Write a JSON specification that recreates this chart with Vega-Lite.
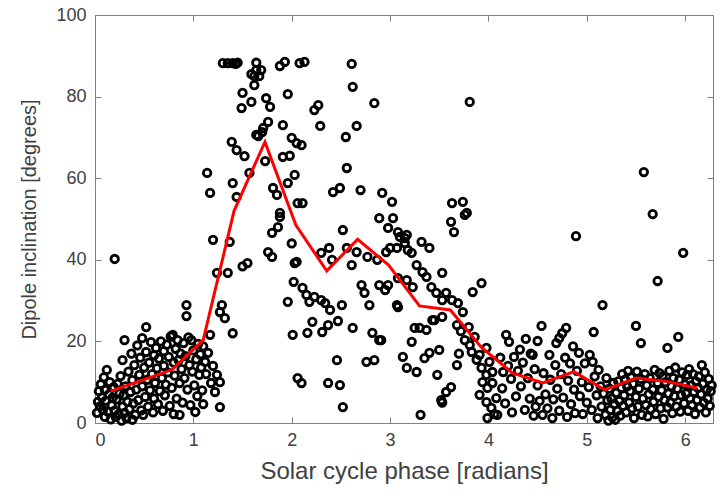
{
"$schema":"https://vega.github.io/schema/vega-lite/v6.json",
"width":618,"height":408,
"autosize":{"type":"none"},
"padding":{"left":95,"top":15,"right":9,"bottom":72},
"background":"white",
"config":{
 "view":{"stroke":"#808080","strokeWidth":1},
 "axis":{"domainColor":"#808080","tickColor":"#808080","tickSize":-6,"tickWidth":1,"labelColor":"#404040","titleColor":"#404040","labelFont":"Liberation Sans","titleFont":"Liberation Sans","labelFontSize":18,"titleFontSize":20,"titleFontWeight":"normal","grid":false}
},
"datasets":{
"pts":[
{"x":0.02,"y":2.5},{"x":0.03,"y":5.2},{"x":0.04,"y":7.8},{"x":0.05,"y":4.1},{"x":0.06,"y":9.5},{"x":0.07,"y":6.3},{"x":0.08,"y":3.2},{"x":0.09,"y":11.2},{"x":0.10,"y":1.5},{"x":0.10,"y":8.1},
{"x":0.11,"y":5.5},{"x":0.12,"y":13.0},{"x":0.13,"y":2.8},{"x":0.14,"y":7.0},{"x":0.15,"y":10.0},{"x":0.16,"y":0.9},{"x":0.17,"y":4.3},{"x":0.18,"y":6.2},{"x":0.19,"y":8.8},{"x":0.20,"y":3.0},{"x":0.20,"y":40.2},
{"x":0.21,"y":1.5},{"x":0.22,"y":5.8},{"x":0.23,"y":9.6},{"x":0.24,"y":2.2},{"x":0.25,"y":7.2},{"x":0.26,"y":11.5},{"x":0.27,"y":0.6},{"x":0.28,"y":4.0},{"x":0.28,"y":15.4},{"x":0.29,"y":6.8},{"x":0.30,"y":20.3},{"x":0.30,"y":2.5},
{"x":0.31,"y":9.0},{"x":0.32,"y":1.2},{"x":0.33,"y":5.2},{"x":0.34,"y":12.6},{"x":0.35,"y":3.4},{"x":0.36,"y":7.6},{"x":0.37,"y":17.0},{"x":0.38,"y":0.8},{"x":0.38,"y":10.5},{"x":0.39,"y":4.8},{"x":0.40,"y":14.2},
{"x":0.41,"y":2.0},{"x":0.42,"y":8.2},{"x":0.43,"y":19.0},{"x":0.44,"y":5.6},{"x":0.45,"y":11.8},{"x":0.46,"y":16.0},{"x":0.47,"y":3.1},{"x":0.48,"y":20.8},{"x":0.48,"y":9.0},{"x":0.49,"y":2.0},{"x":0.50,"y":13.6},{"x":0.52,"y":23.5},
{"x":0.51,"y":6.4},{"x":0.52,"y":17.4},{"x":0.53,"y":10.6},{"x":0.54,"y":4.0},{"x":0.55,"y":14.8},{"x":0.56,"y":8.0},{"x":0.57,"y":19.8},{"x":0.58,"y":12.0},{"x":0.59,"y":2.6},{"x":0.60,"y":16.6},{"x":0.60,"y":6.0},
{"x":0.61,"y":9.8},{"x":0.62,"y":18.4},{"x":0.63,"y":13.4},{"x":0.64,"y":4.6},{"x":0.65,"y":15.8},{"x":0.66,"y":7.8},{"x":0.67,"y":20.0},{"x":0.68,"y":11.0},{"x":0.69,"y":3.0},{"x":0.70,"y":17.6},{"x":0.70,"y":14.0},
{"x":0.71,"y":6.8},{"x":0.72,"y":9.4},{"x":0.73,"y":19.2},{"x":0.74,"y":12.4},{"x":0.75,"y":16.2},{"x":0.76,"y":4.2},{"x":0.77,"y":21.2},{"x":0.78,"y":8.6},{"x":0.79,"y":21.6},{"x":0.80,"y":14.8},{"x":0.80,"y":2.2},
{"x":0.81,"y":11.6},{"x":0.82,"y":18.2},{"x":0.83,"y":6.0},{"x":0.84,"y":20.3},{"x":0.85,"y":15.4},{"x":0.86,"y":2.0},{"x":0.86,"y":9.8},{"x":0.87,"y":17.0},{"x":0.88,"y":13.2},{"x":0.89,"y":5.0},{"x":0.90,"y":19.6},
{"x":0.91,"y":11.0},{"x":0.92,"y":16.4},{"x":0.93,"y":28.9},{"x":0.93,"y":26.2},{"x":0.94,"y":8.2},{"x":0.95,"y":21.0},{"x":0.96,"y":14.2},{"x":0.97,"y":4.4},{"x":0.98,"y":20.3},{"x":0.99,"y":12.6},{"x":1.00,"y":17.8},
{"x":1.01,"y":9.2},{"x":1.02,"y":2.7},{"x":1.03,"y":15.6},{"x":1.04,"y":6.6},{"x":1.05,"y":19.4},{"x":1.06,"y":11.8},{"x":1.07,"y":16.8},{"x":1.08,"y":13.6},{"x":1.09,"y":8.0},{"x":1.10,"y":18.8},{"x":1.10,"y":4.6},
{"x":1.12,"y":15.0},{"x":1.13,"y":12.0},{"x":1.15,"y":17.2},{"x":1.17,"y":21.6},{"x":1.18,"y":9.8},{"x":1.20,"y":14.0},{"x":1.22,"y":7.6},{"x":1.24,"y":11.8},{"x":1.27,"y":10.0},{"x":1.27,"y":3.9},
{"x":1.30,"y":88.2},{"x":1.35,"y":88.2},{"x":1.40,"y":88.2},{"x":1.45,"y":88.3},{"x":1.43,"y":88.0},{"x":1.64,"y":88.3},{"x":1.88,"y":87.5},{"x":1.93,"y":88.5},{"x":2.08,"y":88.2},
{"x":1.59,"y":85.5},{"x":1.64,"y":86.5},{"x":1.69,"y":86.5},{"x":1.62,"y":85.0},{"x":1.67,"y":85.0},
{"x":1.62,"y":82.8},{"x":1.50,"y":80.9},{"x":1.59,"y":78.7},{"x":1.49,"y":77.2},{"x":1.74,"y":79.6},{"x":1.78,"y":77.5},{"x":1.96,"y":80.6},{"x":1.76,"y":73.8},{"x":1.71,"y":72.3},{"x":1.66,"y":70.3},{"x":1.91,"y":73.0},{"x":2.00,"y":69.9},{"x":2.05,"y":68.6},{"x":1.39,"y":68.9},{"x":1.44,"y":66.9},{"x":1.52,"y":65.4},{"x":1.73,"y":64.2},{"x":1.91,"y":65.2},{"x":1.14,"y":61.3},{"x":1.57,"y":61.3},{"x":2.03,"y":60.8},{"x":1.40,"y":58.8},{"x":1.17,"y":56.4},{"x":1.44,"y":55.4},{"x":1.81,"y":57.6},{"x":1.85,"y":55.9},{"x":1.96,"y":58.8},{"x":1.88,"y":51.5},{"x":2.06,"y":53.9},{"x":1.64,"y":70.6},{"x":1.70,"y":71.3},{"x":1.86,"y":48.0},{"x":1.80,"y":46.6},{"x":1.20,"y":44.9},{"x":1.37,"y":44.4},{"x":1.76,"y":41.9},{"x":1.80,"y":40.7},{"x":1.24,"y":36.8},{"x":1.35,"y":36.8},{"x":1.50,"y":38.4},{"x":1.55,"y":39.2},{"x":2.00,"y":44.0},{"x":2.03,"y":39.2},{"x":2.02,"y":34.6},{"x":1.96,"y":29.7},{"x":1.29,"y":28.9},{"x":1.27,"y":27.2},{"x":1.32,"y":25.7},{"x":1.40,"y":22.0},{"x":2.01,"y":21.6},{"x":2.06,"y":11.0},{"x":1.88,"y":50.5},{"x":1.98,"y":65.5},{"x":2.10,"y":68.1},{"x":2.11,"y":53.9},
{"x":2.13,"y":88.5},{"x":2.61,"y":88.0},{"x":2.62,"y":82.4},{"x":2.84,"y":78.4},{"x":3.81,"y":78.7},{"x":2.23,"y":76.7},{"x":2.27,"y":77.9},{"x":2.29,"y":72.8},{"x":2.66,"y":72.8},{"x":2.55,"y":70.1},{"x":2.56,"y":62.5},{"x":2.42,"y":56.6},{"x":2.49,"y":57.6},{"x":2.70,"y":57.1},{"x":2.92,"y":56.4},{"x":3.02,"y":54.2},{"x":3.63,"y":53.9},{"x":3.74,"y":54.2},{"x":3.78,"y":51.5},{"x":2.89,"y":50.2},{"x":3.03,"y":50.2},{"x":3.62,"y":49.3},{"x":2.98,"y":47.8},{"x":2.52,"y":47.3},
{"x":2.30,"y":41.7},{"x":2.38,"y":42.9},{"x":2.41,"y":40.0},{"x":2.56,"y":42.9},{"x":2.66,"y":41.9},{"x":2.61,"y":38.7},{"x":2.77,"y":40.7},{"x":2.87,"y":40.0},{"x":2.96,"y":41.9},{"x":3.00,"y":42.9},{"x":3.07,"y":42.9},{"x":3.10,"y":45.6},{"x":3.17,"y":46.1},{"x":3.15,"y":44.1},{"x":3.18,"y":42.4},{"x":3.22,"y":41.7},{"x":3.32,"y":44.4},{"x":3.40,"y":42.9},{"x":3.65,"y":46.8},{"x":3.76,"y":51.0},{"x":2.05,"y":39.5},{"x":2.71,"y":33.8},{"x":2.74,"y":31.9},{"x":2.79,"y":28.9},{"x":2.89,"y":33.8},{"x":2.98,"y":33.8},{"x":2.95,"y":32.6},{"x":3.08,"y":35.5},{"x":3.17,"y":35.0},{"x":3.23,"y":33.3},{"x":3.27,"y":38.7},{"x":3.33,"y":37.0},{"x":3.37,"y":35.8},{"x":3.53,"y":36.8},{"x":3.42,"y":33.3},{"x":3.47,"y":31.9},{"x":3.57,"y":31.9},{"x":3.53,"y":30.1},{"x":3.63,"y":30.1},{"x":3.69,"y":29.4},{"x":3.74,"y":27.2},{"x":3.84,"y":32.1},{"x":3.93,"y":34.3},
{"x":2.11,"y":33.1},{"x":2.15,"y":31.4},{"x":2.18,"y":29.7},{"x":2.23,"y":30.9},{"x":2.30,"y":30.1},{"x":2.34,"y":29.4},{"x":2.39,"y":27.7},{"x":2.51,"y":28.9},{"x":3.07,"y":28.9},{"x":2.47,"y":25.0},{"x":2.37,"y":24.0},{"x":2.31,"y":22.3},{"x":2.21,"y":24.8},{"x":2.16,"y":22.1},{"x":2.62,"y":23.3},{"x":2.82,"y":22.1},{"x":2.89,"y":20.3},{"x":3.25,"y":23.3},{"x":3.30,"y":23.3},{"x":3.37,"y":22.8},{"x":3.43,"y":25.2},{"x":3.22,"y":19.9},{"x":2.46,"y":15.4},{"x":2.76,"y":15.0},{"x":2.84,"y":15.4},{"x":3.13,"y":16.2},{"x":3.17,"y":13.5},{"x":3.27,"y":12.5},{"x":3.35,"y":15.9},{"x":3.40,"y":17.2},{"x":3.50,"y":17.9},{"x":3.68,"y":14.2},{"x":3.48,"y":11.8},{"x":2.10,"y":9.8},{"x":2.37,"y":9.8},{"x":2.49,"y":9.3},{"x":3.62,"y":8.8},{"x":3.57,"y":7.6},{"x":3.52,"y":5.6},{"x":2.52,"y":3.9},{"x":3.31,"y":2.0},
{"x":3.76,"y":20.3},{"x":3.81,"y":19.1},{"x":3.86,"y":21.1},{"x":3.83,"y":17.4},{"x":3.91,"y":16.7},{"x":3.98,"y":18.4},{"x":4.01,"y":15.0},{"x":3.93,"y":13.5},{"x":3.98,"y":11.8},{"x":4.04,"y":12.5},{"x":3.94,"y":10.0},{"x":3.99,"y":8.6},{"x":4.04,"y":9.8},{"x":3.91,"y":6.9},{"x":3.98,"y":5.1},{"x":4.03,"y":3.7},{"x":4.08,"y":6.1},{"x":4.09,"y":2.0},{"x":3.08,"y":28.4},{"x":3.45,"y":25.2},{"x":3.53,"y":26.0},{"x":3.68,"y":24.0},{"x":2.91,"y":20.3},{"x":3.08,"y":46.8},{"x":3.15,"y":45.3},{"x":3.53,"y":5.0},{"x":3.99,"y":1.2},{"x":4.06,"y":2.2},{"x":3.72,"y":22.5},{"x":3.80,"y":23.5},{"x":3.88,"y":15.5},{"x":3.70,"y":17.0},
{"x":4.12,"y":16.0},{"x":4.15,"y":12.5},{"x":4.18,"y":21.6},{"x":4.21,"y":19.9},{"x":4.14,"y":8.5},{"x":4.17,"y":4.8},{"x":4.20,"y":14.0},{"x":4.23,"y":10.8},{"x":4.26,"y":16.2},{"x":4.24,"y":2.6},{"x":4.28,"y":6.5},{"x":4.30,"y":12.8},{"x":4.32,"y":18.0},{"x":4.33,"y":9.0},{"x":4.35,"y":14.8},{"x":4.37,"y":3.2},{"x":4.38,"y":20.6},{"x":4.40,"y":11.0},{"x":4.42,"y":6.0},{"x":4.43,"y":17.0},{"x":4.45,"y":16.7},{"x":4.46,"y":1.8},{"x":4.47,"y":13.2},{"x":4.48,"y":4.0},{"x":4.50,"y":20.1},{"x":4.50,"y":9.2},
{"x":4.52,"y":5.4},{"x":4.54,"y":23.8},{"x":4.55,"y":2.0},{"x":4.56,"y":12.2},{"x":4.58,"y":7.0},{"x":4.60,"y":3.6},{"x":4.62,"y":16.7},{"x":4.63,"y":10.6},{"x":4.65,"y":1.2},{"x":4.66,"y":5.8},{"x":4.68,"y":14.2},{"x":4.69,"y":19.6},{"x":4.70,"y":8.4},{"x":4.72,"y":20.8},{"x":4.72,"y":3.0},{"x":4.74,"y":12.0},{"x":4.75,"y":22.0},{"x":4.76,"y":6.2},{"x":4.78,"y":16.0},{"x":4.79,"y":23.3},{"x":4.80,"y":1.5},{"x":4.81,"y":10.4},{"x":4.83,"y":14.6},{"x":4.84,"y":4.6},{"x":4.86,"y":18.8},{"x":4.87,"y":8.2},{"x":4.88,"y":2.4},{"x":4.89,"y":45.8},{"x":4.90,"y":12.8},
{"x":4.92,"y":17.2},{"x":4.93,"y":6.6},{"x":4.95,"y":10.0},{"x":4.96,"y":2.2},{"x":4.98,"y":14.6},{"x":5.00,"y":5.0},{"x":5.02,"y":8.8},{"x":5.03,"y":16.7},{"x":5.05,"y":3.2},{"x":5.06,"y":15.0},{"x":5.07,"y":22.3},{"x":5.08,"y":11.4},{"x":5.10,"y":6.8},{"x":5.11,"y":1.2},{"x":5.12,"y":13.0},{"x":5.14,"y":9.0},{"x":5.15,"y":4.0},{"x":5.16,"y":28.9},{"x":5.17,"y":7.2},{"x":5.19,"y":2.0},{"x":5.20,"y":11.0},{"x":5.21,"y":5.6},{"x":5.22,"y":0.6},{"x":5.23,"y":8.4},{"x":5.24,"y":3.2},{"x":5.25,"y":6.0},{"x":5.26,"y":1.4},{"x":5.27,"y":9.8},{"x":5.28,"y":4.6},{"x":5.29,"y":0.8},
{"x":5.30,"y":7.4},{"x":5.31,"y":3.0},{"x":5.32,"y":10.2},{"x":5.33,"y":5.4},{"x":5.34,"y":1.8},{"x":5.35,"y":8.6},{"x":5.36,"y":12.0},{"x":5.37,"y":4.2},{"x":5.38,"y":6.8},{"x":5.39,"y":10.6},{"x":5.40,"y":2.6},{"x":5.41,"y":9.0},{"x":5.42,"y":12.8},{"x":5.43,"y":5.0},{"x":5.44,"y":7.8},{"x":5.45,"y":11.2},{"x":5.46,"y":3.6},{"x":5.47,"y":9.6},{"x":5.48,"y":1.2},{"x":5.50,"y":23.8},{"x":5.50,"y":6.4},{"x":5.51,"y":12.6},{"x":5.52,"y":4.0},{"x":5.53,"y":8.4},{"x":5.55,"y":19.6},{"x":5.55,"y":10.8},{"x":5.56,"y":2.0},{"x":5.57,"y":6.0},{"x":5.58,"y":61.5},{"x":5.59,"y":12.0},{"x":5.60,"y":4.4},{"x":5.61,"y":9.2},{"x":5.62,"y":1.6},{"x":5.63,"y":7.0},{"x":5.64,"y":11.0},{"x":5.65,"y":3.4},{"x":5.67,"y":51.2},{"x":5.67,"y":8.2},{"x":5.68,"y":5.2},{"x":5.69,"y":13.0},
{"x":5.70,"y":2.2},{"x":5.72,"y":34.8},{"x":5.72,"y":9.8},{"x":5.73,"y":6.4},{"x":5.74,"y":12.2},{"x":5.75,"y":3.6},{"x":5.76,"y":8.0},{"x":5.77,"y":11.4},{"x":5.78,"y":1.0},{"x":5.79,"y":5.6},{"x":5.80,"y":10.0},{"x":5.82,"y":18.4},{"x":5.82,"y":3.8},{"x":5.83,"y":7.2},{"x":5.84,"y":12.8},{"x":5.85,"y":5.0},{"x":5.86,"y":9.0},{"x":5.87,"y":2.4},{"x":5.88,"y":11.0},{"x":5.89,"y":6.6},{"x":5.90,"y":13.6},{"x":5.91,"y":4.0},{"x":5.92,"y":8.4},{"x":5.93,"y":21.1},{"x":5.94,"y":10.6},{"x":5.95,"y":2.8},{"x":5.96,"y":6.8},{"x":5.97,"y":12.4},{"x":5.98,"y":41.7},{"x":5.99,"y":4.8},{"x":6.00,"y":9.4},{"x":6.01,"y":7.2},{"x":6.02,"y":11.8},{"x":6.03,"y":3.0},{"x":6.04,"y":13.2},{"x":6.05,"y":6.0},{"x":6.06,"y":9.2},{"x":6.07,"y":4.4},{"x":6.08,"y":12.0},{"x":6.09,"y":7.6},{"x":6.10,"y":2.2},{"x":6.11,"y":10.2},{"x":6.12,"y":5.6},{"x":6.13,"y":8.6},{"x":6.14,"y":11.4},{"x":6.15,"y":3.8},{"x":6.16,"y":7.0},{"x":6.17,"y":14.2},{"x":6.18,"y":9.6},{"x":6.19,"y":5.0},{"x":6.20,"y":12.4},{"x":6.21,"y":2.6},{"x":6.22,"y":8.2},{"x":6.23,"y":6.0},{"x":6.24,"y":10.8},{"x":6.25,"y":4.2},{"x":6.26,"y":7.8},{"x":6.27,"y":9.2}
],
"line":[
{"x":0.157,"y":7.8},{"x":0.471,"y":10.4},{"x":0.785,"y":13.1},{"x":1.100,"y":20.3},{"x":1.414,"y":52.0},{"x":1.728,"y":68.9},{"x":2.042,"y":48.5},{"x":2.356,"y":37.3},{"x":2.670,"y":45.0},{"x":2.985,"y":38.7},{"x":3.299,"y":28.7},{"x":3.613,"y":27.7},{"x":3.927,"y":18.6},{"x":4.241,"y":12.3},{"x":4.555,"y":9.8},{"x":4.869,"y":12.6},{"x":5.184,"y":8.1},{"x":5.498,"y":11.0},{"x":5.812,"y":10.2},{"x":6.126,"y":8.5}
]
},
"layer":[
{"data":{"name":"pts"},
 "mark":{"type":"point","shape":"circle","filled":false,"stroke":"black","strokeWidth":2.8,"size":56,"opacity":1},
 "encoding":{
  "x":{"field":"x","type":"quantitative","scale":{"domain":[0,6.2832],"nice":false,"zero":false},
       "axis":{"orient":"bottom","values":[0,1,2,3,4,5,6],"format":"d","title":"Solar cycle phase [radians]","titleFontSize":24,"labelPadding":14,"titlePadding":10}},
  "y":{"field":"y","type":"quantitative","scale":{"domain":[0,100],"nice":false},
       "axis":{"orient":"left","values":[0,20,40,60,80,100],"title":"Dipole inclination [degrees]","labelPadding":15,"titlePadding":16}}
 }},
{"data":{"name":"line"},
 "mark":{"type":"line","stroke":"#ff0000","strokeWidth":3},
 "encoding":{
  "x":{"field":"x","type":"quantitative","scale":{"domain":[0,6.2832],"nice":false,"zero":false},
       "axis":{"orient":"top","values":[0,1,2,3,4,5,6],"labels":false,"title":null}},
  "y":{"field":"y","type":"quantitative","scale":{"domain":[0,100],"nice":false},
       "axis":{"orient":"right","values":[0,20,40,60,80,100],"labels":false,"title":null}}
 }}
],
"resolve":{"axis":{"x":"independent","y":"independent"}}
}
